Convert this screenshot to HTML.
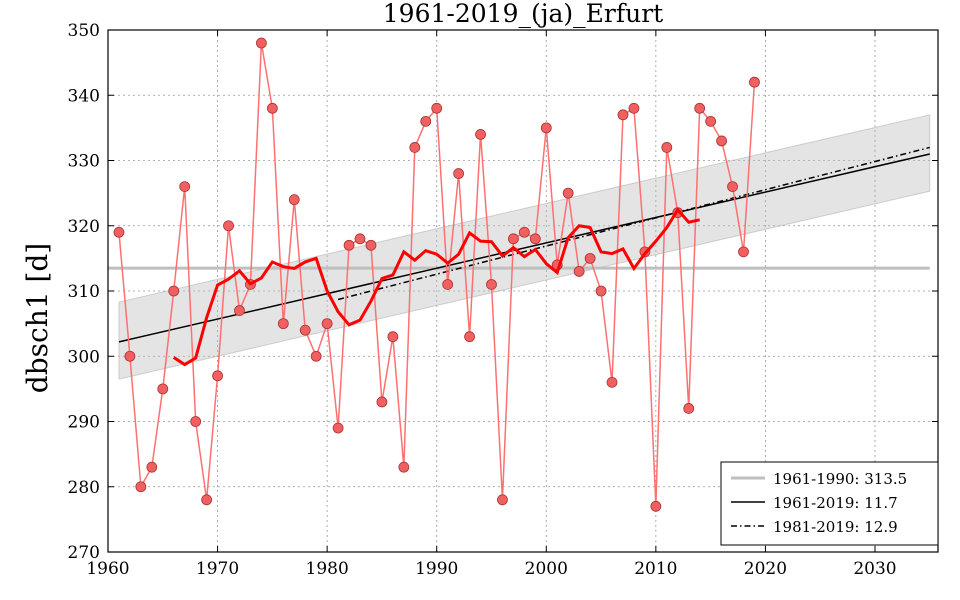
<!DOCTYPE html>
<html><head><meta charset="utf-8"><style>
body{margin:0;background:#fff}
svg{display:block;font-family:"DejaVu Serif","Liberation Serif",serif}
</style></head><body>
<svg id="s" width="960" height="600" xmlns="http://www.w3.org/2000/svg"></svg>
<script>
const d={1961:319,1962:300,1963:280,1964:283,1965:295,1966:310,1967:326,1968:290,1969:278,1970:297,1971:320,1972:307,1973:311,1974:348,1975:338,1976:305,1977:324,1978:304,1979:300,1980:305,1981:289,1982:317,1983:318,1984:317,1985:293,1986:303,1987:283,1988:332,1989:336,1990:338,1991:311,1992:328,1993:303,1994:334,1995:311,1996:278,1997:318,1998:319,1999:318,2000:335,2001:314,2002:325,2003:313,2004:315,2005:310,2006:296,2007:337,2008:338,2009:316,2010:277,2011:332,2012:322,2013:292,2014:338,2015:336,2016:333,2017:326,2018:316,2019:342};
const X=y=>108+(y-1960)*10.957, Y=v=>30+(350-v)*6.525;
let h='';
h+='<rect x="108" y="30" width="830" height="522" fill="#fff"/>';
for(let yr=1960;yr<=2030;yr+=10){h+=`<line x1="${X(yr)}" y1="30" x2="${X(yr)}" y2="552" stroke="#999" stroke-dasharray="2,3" stroke-width="0.8"/>`;}
for(let v=270;v<=350;v+=10){h+=`<line x1="108" y1="${Y(v)}" x2="938" y2="${Y(v)}" stroke="#999" stroke-dasharray="2,3" stroke-width="0.8"/>`;}
h+=`<polygon points="${X(1961)},${Y(308.3)} ${X(2035)},${Y(337)} ${X(2035)},${Y(325.3)} ${X(1961)},${Y(296.5)}" fill="#bbb" fill-opacity="0.4" stroke="#aaa" stroke-opacity="0.5"/>`;
h+=`<line x1="108" y1="${Y(313.5)}" x2="${X(2035)}" y2="${Y(313.5)}" stroke="#bfbfbf" stroke-width="3"/>`;
h+=`<line x1="${X(1961)}" y1="${Y(302.2)}" x2="${X(2035)}" y2="${Y(331)}" stroke="#000" stroke-width="1.5"/>`;
h+=`<line x1="${X(1981)}" y1="${Y(308.7)}" x2="${X(2035)}" y2="${Y(332)}" stroke="#000" stroke-width="1.5" stroke-dasharray="6,3,1.5,3"/>`;
let pts=Object.keys(d).map(k=>X(+k)+','+Y(d[k])).join(' ');
h+=`<polyline points="${pts}" fill="none" stroke="#ff7070" stroke-width="1.5"/>`;
for(const k in d)h+=`<circle cx="${X(+k)}" cy="${Y(d[k])}" r="5" fill="#f06060" stroke="#a33" stroke-width="0.8"/>`;
let ma=[];for(let y=1966;y<=2014;y++){let s=0;for(let j=-5;j<=5;j++)s+=d[y+j];ma.push(X(y)+','+Y(s/11));}
h+=`<polyline points="${ma.join(' ')}" fill="none" stroke="#f00" stroke-width="3"/>`;
h+='<rect x="108" y="30" width="830" height="522" fill="none" stroke="#000" stroke-width="1.2"/>';
for(let yr=1960;yr<=2030;yr+=10){h+=`<line x1="${X(yr)}" y1="552" x2="${X(yr)}" y2="546" stroke="#000"/><line x1="${X(yr)}" y1="30" x2="${X(yr)}" y2="36" stroke="#000"/><text x="${X(yr)}" y="574" font-size="17" text-anchor="middle">${yr}</text>`;}
for(let v=270;v<=350;v+=10){h+=`<line x1="108" y1="${Y(v)}" x2="114" y2="${Y(v)}" stroke="#000"/><line x1="938" y1="${Y(v)}" x2="932" y2="${Y(v)}" stroke="#000"/><text x="100" y="${Y(v)+6}" font-size="17" text-anchor="end">${v}</text>`;}
h+='<text x="523" y="22" font-size="25" text-anchor="middle">1961-2019_(ja)_Erfurt</text>';
h+='<text transform="translate(47,318) rotate(-90)" font-size="28" text-anchor="middle">dbsch1 [d]</text>';
h+='<rect x="721" y="462" width="217" height="83" fill="#fff" stroke="#000"/>';
h+='<line x1="731" y1="478" x2="765" y2="478" stroke="#bfbfbf" stroke-width="3"/><text x="773" y="484" font-size="15">1961-1990: 313.5</text>';
h+='<line x1="731" y1="502" x2="765" y2="502" stroke="#000" stroke-width="1.5"/><text x="773" y="508" font-size="15">1961-2019: 11.7</text>';
h+='<line x1="731" y1="526" x2="765" y2="526" stroke="#000" stroke-width="1.5" stroke-dasharray="6,3,1.5,3"/><text x="773" y="532" font-size="15">1981-2019: 12.9</text>';
document.getElementById('s').innerHTML=h;
</script>
</body></html>
